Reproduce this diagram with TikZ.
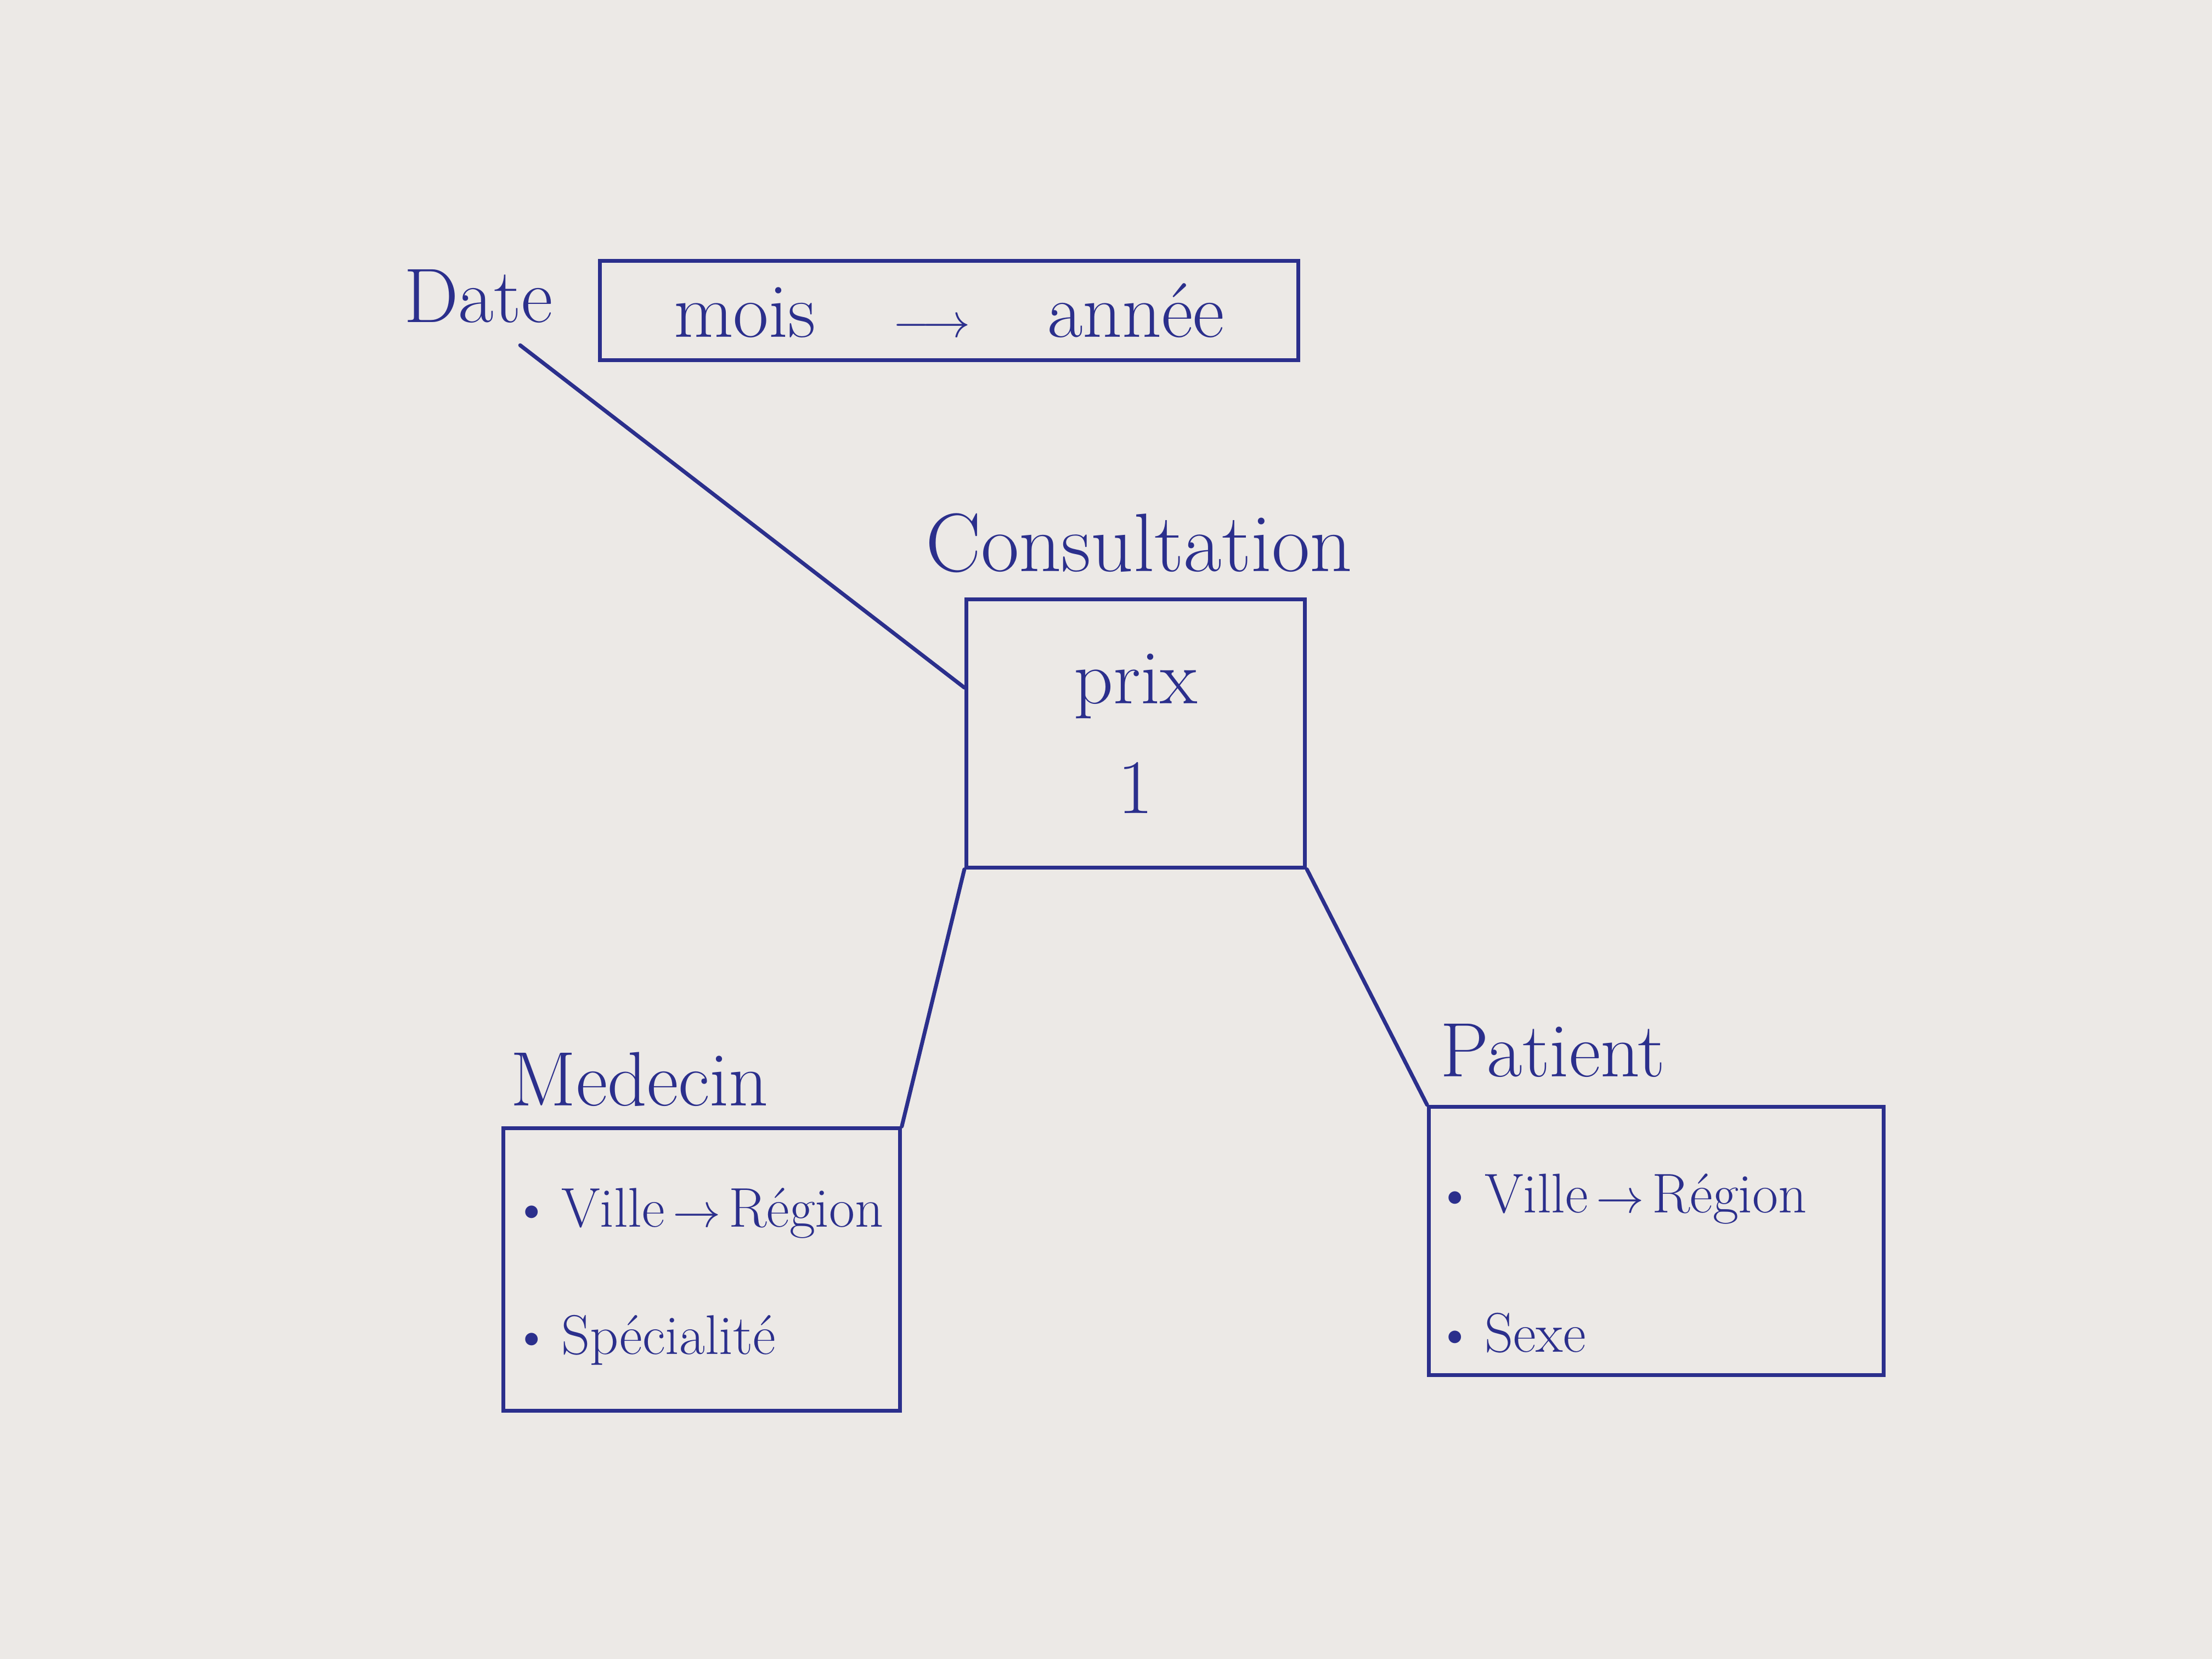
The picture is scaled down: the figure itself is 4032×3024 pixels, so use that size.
\documentclass[tikz,border=0pt]{standalone}
\usepackage{fontspec}
\usepackage{amsmath}
\definecolor{paper}{HTML}{ECE9E6}
\definecolor{ink}{HTML}{2B2F8C}
\begin{document}
\begin{tikzpicture}[x=0.01cm,y=-0.01cm,
  lbl/.style={text=ink,font=\fontsize{40}{48}\selectfont,inner sep=0pt},
  ibox/.style={draw=ink,line width=2pt,text=ink,rectangle,inner sep=0pt},
  item/.style={text=ink,font=\fontsize{29}{64}\selectfont,align=left,anchor=west,inner sep=0pt},
  link/.style={draw=ink,line width=2pt,line cap=round}]
\fill[paper] (0,0) rectangle (4032,3024);
\useasboundingbox (0,0) rectangle (4032,3024);

% Date dimension
\node[lbl,anchor=center] (date) at (872,540) {Date};
\node[ibox,minimum width=12.73cm,minimum height=1.8cm,font=\fontsize{40}{48}\selectfont] (datebox) at (1730,566)
  {mois\quad$\longrightarrow$\quad année};

% Fact table
\node[lbl,font=\fontsize{43}{50}\selectfont] (consl) at (2076,990) {Consultation};
\node[ibox,minimum width=6.17cm,minimum height=4.88cm,align=center,font=\fontsize{40}{51}\selectfont] (cons) at (2070,1337)
  {prix\\[2mm]1};

% Medecin dimension
\node[lbl,anchor=west] (medl) at (930,1967) {Medecin};
\node[ibox,minimum width=7.22cm,minimum height=5.14cm] (med) at (1279,2314) {};
\node[item] (med1) at (932,2211) {\textbullet\,Ville$\,\to\,$Région};
\node[item] (med2) at (932,2443) {\textbullet\,Spécialité};

% Patient dimension
\node[lbl,anchor=west] (patl) at (2625,1915) {Patient};
\node[ibox,minimum width=8.28cm,minimum height=4.89cm] (pat) at (3019,2262) {};
\node[item] (pat1) at (2615,2185) {\textbullet\,Ville$\,\to\,$Région};
\node[item] (pat2) at (2615,2430) {\textbullet\,Sexe};

% Connectors
\draw[link] (date.south east) ++(-60,40) coordinate (ds) -- (cons.165);
\draw[link] (cons.south west) -- (med.north east);
\draw[link] (cons.south east) -- (pat.north west);
\end{tikzpicture}
\end{document}
